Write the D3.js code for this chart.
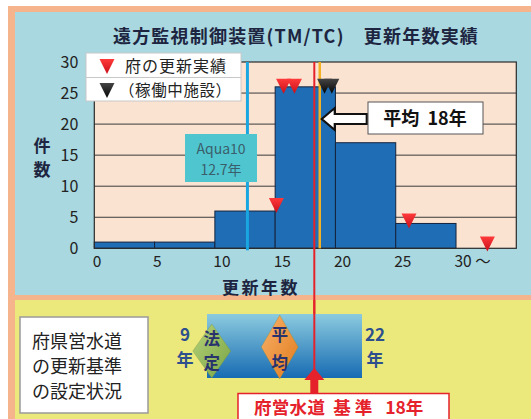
<!DOCTYPE html>
<html><head><meta charset="utf-8">
<script src="https://cdn.jsdelivr.net/npm/d3@7"></script>
<style>
html,body{margin:0;padding:0;background:#fff;}
svg{display:block;font-family:"Noto Sans CJK JP","Noto Sans",sans-serif;}
text{white-space:pre;}
</style></head>
<body>
<svg id="c" width="531" height="419"></svg>
<script>
// Histogram of replacement years (件数 per 5-year bin)
const binStarts = [0, 5, 10, 15, 20, 25, 30];
const binCounts = [1, 1, 6, 26, 17, 4, 0];
const xTickValues = [0, 5, 10, 15, 20, 25, 30];
const xTickLabels = ["0", "5", "10", "15", "20", "25", "30 ～"];
const yTickValues = [0, 5, 10, 15, 20, 25, 30];

// Prefecture replacement records (red) and facilities still running (black): [years, count at tip]
const redMarkYears = [15.1, 15.7, 16.6, 26.1, 32.6];
const redMarkLevels = [5.7, 24.9, 24.9, 3.2, -0.5];
const blackMarkYears = [19.1, 19.7];
const blackMarkLevels = [24.9, 24.9];

const aquaYears = 12.7;
const meanYears = 18.7;
const standardYears = 18;

// Prefectural standard range
const rangeStart = 9, rangeEnd = 22;
const legalYears = 9.4, avgStdYears = 15.1;

const svg = d3.select("#c");
const defs = svg.append("defs");

// panels
svg.append("rect").attr("x", 8).attr("y", 6).attr("width", 540).attr("height", 430).attr("fill", "#f6b48c");
svg.append("rect").attr("x", 15).attr("y", 12).attr("width", 530).attr("height", 283).attr("fill", "#a9d8e0");
svg.append("rect").attr("x", 15).attr("y", 300).attr("width", 530).attr("height", 130).attr("fill", "#ece97c");

// title
svg.append("text").attr("x", 296).attr("y", 43).attr("text-anchor", "middle")
  .attr("font-size", 18).attr("font-weight", "bold").attr("letter-spacing", 1.2).attr("fill", "#1d2540")
  .text("遠方監視制御装置(TM/TC)　更新年数実績");

const x = d3.scaleLinear().domain([0, 35]).range([94.3, 516.3]);
const y = d3.scaleLinear().domain([0, 30]).range([248.3, 62]);

// plot background
svg.append("rect").attr("x", x(0)).attr("y", y(30)).attr("width", x(35) - x(0)).attr("height", y(0) - y(30))
  .attr("fill", "#fbe3d2");

// grid
svg.append("g").selectAll("line").data(yTickValues.filter(v => v > 0 && v < 30)).join("line")
  .attr("x1", x(0)).attr("x2", x(35)).attr("y1", d => y(d)).attr("y2", d => y(d))
  .attr("stroke", "#3a3a3a").attr("stroke-width", 1);

// bars
svg.append("g").selectAll("rect").data(binStarts.map((s, i) => ({s, c: binCounts[i]})).filter(d => d.c > 0)).join("rect")
  .attr("x", d => x(d.s)).attr("y", d => y(d.c))
  .attr("width", d => x(d.s + 5) - x(d.s)).attr("height", d => y(0) - y(d.c))
  .attr("fill", "#1f6db4").attr("stroke", "#15233d").attr("stroke-width", 1);

// plot frame
svg.append("rect").attr("x", x(0)).attr("y", y(30)).attr("width", x(35) - x(0)).attr("height", y(0) - y(30))
  .attr("fill", "none").attr("stroke", "#2a2a2a").attr("stroke-width", 1.2);

// y axis ticks
const yAxis = d3.axisLeft(y).tickValues(yTickValues).tickSize(0).tickPadding(16);
const yg = svg.append("g").attr("transform", `translate(${x(0)},0)`).call(yAxis);
yg.select(".domain").remove();
yg.selectAll("text").attr("font-size", 16).attr("fill", "#222").attr("font-family", "'Noto Sans CJK JP',sans-serif");

// x axis ticks
const xAxis = d3.axisBottom(x).tickValues(xTickValues).tickSize(0).tickPadding(8)
  .tickFormat((d, i) => xTickLabels[i]);
const xg = svg.append("g").attr("transform", `translate(0,${y(0)})`).call(xAxis);
xg.select(".domain").remove();
xg.selectAll("text").attr("font-size", 15.5).attr("fill", "#222").attr("text-anchor", "start").attr("dx", -2)
  .attr("font-family", "'Noto Sans CJK JP',sans-serif");

// axis titles
svg.append("text").attr("x", 261).attr("y", 293.5).attr("text-anchor", "middle")
  .attr("font-size", 17).attr("font-weight", "bold").attr("letter-spacing", 2.5).attr("fill", "#1d2540").text("更新年数");
svg.append("text").attr("x", 42).attr("y", 152).attr("text-anchor", "middle")
  .attr("font-size", 17).attr("font-weight", "bold").attr("fill", "#1d2540").text("件");
svg.append("text").attr("x", 42).attr("y", 176).attr("text-anchor", "middle")
  .attr("font-size", 17).attr("font-weight", "bold").attr("fill", "#1d2540").text("数");

// Aqua10 line + label
svg.append("line").attr("x1", x(aquaYears)).attr("x2", x(aquaYears)).attr("y1", y(30)).attr("y2", y(0) + 2)
  .attr("stroke", "#1aa6e0").attr("stroke-width", 3);
svg.append("rect").attr("x", 185).attr("y", 134).attr("width", 72).attr("height", 48).attr("fill", "#4fc6cf");
svg.append("text").attr("x", 221).attr("y", 154).attr("text-anchor", "middle").attr("font-size", 14)
  .attr("fill", "#3b5e6c").text("Aqua10");
svg.append("text").attr("x", 221).attr("y", 175).attr("text-anchor", "middle").attr("font-size", 14)
  .attr("fill", "#3b5e6c").text(aquaYears + "年");

// mean line
svg.append("line").attr("x1", x(meanYears)).attr("x2", x(meanYears)).attr("y1", y(30)).attr("y2", y(0))
  .attr("stroke", "#f4b223").attr("stroke-width", 2.5);

// bottom standard scale
const xs = d3.scaleLinear().domain([rangeStart, rangeEnd]).range([207, 362]);

// standard line (red)
svg.append("line").attr("x1", xs(standardYears)).attr("x2", xs(standardYears)).attr("y1", y(30)).attr("y2", 372)
  .attr("stroke", "#e5222b").attr("stroke-width", 2);

// markers
const tri = "M-7.5,-15 L7.5,-15 L0,0 Z";
const redGrad = defs.append("linearGradient").attr("id", "rg").attr("x1", 0).attr("y1", 0).attr("x2", 0).attr("y2", 1);
redGrad.append("stop").attr("offset", "0%").attr("stop-color", "#ff3a3a");
redGrad.append("stop").attr("offset", "100%").attr("stop-color", "#c8101a");
const blkGrad = defs.append("linearGradient").attr("id", "bg").attr("x1", 0).attr("y1", 0).attr("x2", 0).attr("y2", 1);
blkGrad.append("stop").attr("offset", "0%").attr("stop-color", "#444");
blkGrad.append("stop").attr("offset", "100%").attr("stop-color", "#050505");

svg.append("g").selectAll("path").data(redMarkYears.map((v, i) => [v, redMarkLevels[i]])).join("path")
  .attr("d", tri).attr("transform", d => `translate(${x(d[0])},${y(d[1])})`).attr("fill", "url(#rg)");
svg.append("g").selectAll("path").data(blackMarkYears.map((v, i) => [v, blackMarkLevels[i]])).join("path")
  .attr("d", tri).attr("transform", d => `translate(${x(d[0])},${y(d[1])})`).attr("fill", "url(#bg)");

// legend
const lg = svg.append("g");
lg.append("rect").attr("x", 86).attr("y", 53).attr("width", 155).attr("height", 48)
  .attr("fill", "#fff").attr("stroke", "#c8c8c8").attr("stroke-width", 1);
lg.append("line").attr("x1", 86).attr("x2", 241).attr("y1", 77.5).attr("y2", 77.5).attr("stroke", "#c8c8c8");
lg.append("path").attr("d", tri).attr("transform", "translate(107,74)").attr("fill", "url(#rg)");
lg.append("path").attr("d", tri).attr("transform", "translate(107,98)").attr("fill", "url(#bg)");
lg.append("text").attr("x", 125).attr("y", 71.5).attr("font-size", 16).attr("letter-spacing", 1).attr("fill", "#222").text("府の更新実績");
lg.append("text").attr("x", 119).attr("y", 95.5).attr("font-size", 15.5).attr("letter-spacing", 0.6).attr("fill", "#222").text("（稼働中施設）");

// mean callout
const mg = svg.append("g");
const ax = x(meanYears) + 2, ay = 119;
mg.append("path")
  .attr("d", `M${ax},${ay} L${ax + 13},${ay - 11} L${ax + 13},${ay - 5} L${ax + 45},${ay - 5} L${ax + 45},${ay + 5} L${ax + 13},${ay + 5} L${ax + 13},${ay + 11} Z`)
  .attr("fill", "#fff").attr("stroke", "#111").attr("stroke-width", 2.2).attr("stroke-linejoin", "miter");
mg.append("rect").attr("x", 368).attr("y", 102).attr("width", 115).attr("height", 32)
  .attr("fill", "#fff").attr("stroke", "#555").attr("stroke-width", 1);
mg.append("text").attr("x", 425).attr("y", 124.5).attr("text-anchor", "middle").attr("font-size", 18)
  .attr("font-weight", "bold").attr("fill", "#111").text(`平均  ${Math.floor(meanYears)}年`);

// bottom panel: label box
svg.append("rect").attr("x", 20).attr("y", 317).attr("width", 128).attr("height", 96)
  .attr("fill", "#fff").attr("stroke", "#9a9a9a").attr("stroke-width", 1.5);
["府県営水道", "の更新基準", "の設定状況"].forEach((t, i) => {
  svg.append("text").attr("x", 32).attr("y", 348 + i * 25).attr("font-size", 18).attr("fill", "#222").text(t);
});

// standard range bar
const bandGrad = defs.append("linearGradient").attr("id", "band").attr("x1", 0).attr("y1", 0).attr("x2", 0).attr("y2", 1);
bandGrad.append("stop").attr("offset", "0%").attr("stop-color", "#8ccbdf");
bandGrad.append("stop").attr("offset", "100%").attr("stop-color", "#176bb3");
svg.append("rect").attr("x", xs(rangeStart)).attr("y", 314).attr("width", xs(rangeEnd) - xs(rangeStart)).attr("height", 64)
  .attr("fill", "url(#band)");

// redraw red line over the band
svg.append("line").attr("x1", xs(standardYears)).attr("x2", xs(standardYears)).attr("y1", 300).attr("y2", 372)
  .attr("stroke", "#e5222b").attr("stroke-width", 2);

const diamond = (cx, cy, w, h, id, c1, c2) => {
  const g = defs.append("linearGradient").attr("id", id).attr("x1", 0).attr("y1", 0).attr("x2", 1).attr("y2", 1);
  g.append("stop").attr("offset", "0%").attr("stop-color", c1);
  g.append("stop").attr("offset", "100%").attr("stop-color", c2);
  svg.append("path").attr("d", `M${cx},${cy - h / 2} L${cx + w / 2},${cy} L${cx},${cy + h / 2} L${cx - w / 2},${cy} Z`)
    .attr("fill", `url(#${id})`).attr("stroke", "#6b8a3a").attr("stroke-opacity", 0.3);
};
diamond(xs(legalYears), 351, 38, 54, "dg", "#b7d27a", "#78a444");
diamond(xs(avgStdYears), 347, 37, 64, "do", "#f9b26a", "#e07a1c");

const navy = "#28336e";
[["法", 345], ["定", 369]].forEach(([t, yy]) => svg.append("text").attr("x", xs(legalYears)).attr("y", yy)
  .attr("text-anchor", "middle").attr("font-size", 16.5).attr("font-weight", "bold").attr("fill", navy).text(t));
[["平", 341], ["均", 369]].forEach(([t, yy]) => svg.append("text").attr("x", xs(avgStdYears)).attr("y", yy)
  .attr("text-anchor", "middle").attr("font-size", 16.5).attr("font-weight", "bold").attr("fill", navy).text(t));

const endColor = "#2d4f8e";
[[rangeStart + "", 341], ["年", 366]].forEach(([t, yy]) => svg.append("text").attr("x", xs(rangeStart) - 22).attr("y", yy)
  .attr("text-anchor", "middle").attr("font-size", 17).attr("font-weight", "bold").attr("fill", endColor).text(t));
[[rangeEnd + "", 341], ["年", 366]].forEach(([t, yy]) => svg.append("text").attr("x", xs(rangeEnd) + 13).attr("y", yy)
  .attr("text-anchor", "middle").attr("font-size", 17).attr("font-weight", "bold").attr("fill", endColor).text(t));

// red up-arrow and standard label
const sx = xs(standardYears);
svg.append("path").attr("d", `M${sx},368 L${sx + 10},380 L${sx + 4},380 L${sx + 4},394 L${sx - 4},394 L${sx - 4},380 L${sx - 10},380 Z`)
  .attr("fill", "#e5222b");
svg.append("rect").attr("x", 238).attr("y", 393.5).attr("width", 211).attr("height", 40)
  .attr("fill", "#fff").attr("stroke", "#e5222b").attr("stroke-width", 1.5);
const stdLabel = svg.append("text").attr("x", 254).attr("y", 413.5).attr("font-size", 17.5).attr("font-weight", "bold")
  .attr("fill", "#e5222b");
stdLabel.append("tspan").attr("letter-spacing", 0.3).text("府営水道");
stdLabel.append("tspan").attr("dx", 8).attr("letter-spacing", 4).text("基準");
stdLabel.append("tspan").attr("dx", 9).text(`${standardYears}年`);
</script>
</body></html>
